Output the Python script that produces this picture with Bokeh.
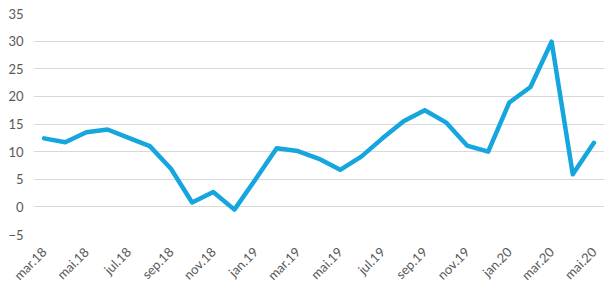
import math
from bokeh.plotting import figure
from bokeh.models import FixedTicker, Range1d, ColumnDataSource
from bokeh.embed import file_html
from bokeh.resources import INLINE

months = ["mar.18", "apr.18", "mai.18", "jun.18", "jul.18", "aug.18", "sep.18", "okt.18", "nov.18",
          "des.18", "jan.19", "feb.19", "mar.19", "apr.19", "mai.19", "jun.19", "jul.19", "aug.19",
          "sep.19", "okt.19", "nov.19", "des.19", "jan.20", "feb.20", "mar.20", "apr.20", "mai.20"]
values = [12.4, 11.7, 13.5, 14.0, 12.5, 11.0, 6.9, 0.8, 2.7, -0.5, 5.0, 10.6, 10.1, 8.7, 6.7,
          9.1, 12.4, 15.5, 17.5, 15.3, 11.1, 10.0, 18.9, 21.7, 29.9, 5.9, 11.6]
y_ticks = [-5, 0, 5, 10, 15, 20, 25, 30, 35]

x = list(range(len(months)))
src = ColumnDataSource(data=dict(x=x, y=values))

p = figure(width=615, height=291, output_backend="svg", toolbar_location=None,
           x_range=Range1d(-0.5, len(months) - 0.5), y_range=Range1d(-5, 35),
           min_border_left=33, min_border_right=11, min_border_top=13, min_border_bottom=57)
p.outline_line_color = None
p.background_fill_color = "white"
p.border_fill_color = "white"

p.line("x", "y", source=src, line_color="#16A6DE", line_width=4.5, line_join="round", line_cap="round")

p.xgrid.grid_line_color = None
p.ygrid.grid_line_color = "#D9D9D9"
p.ygrid.grid_line_width = 1

p.yaxis.ticker = FixedTicker(ticks=y_ticks)
p.xaxis.ticker = FixedTicker(ticks=x[::2])
p.xaxis.major_label_overrides = {i: months[i] for i in x}
p.xaxis.major_label_orientation = math.pi / 4

for ax in (p.xaxis, p.yaxis):
    ax.axis_line_color = None
    ax.major_tick_line_color = None
    ax.minor_tick_line_color = None
    ax.major_tick_out = 0
    ax.major_tick_in = 0
    ax.major_label_text_font = "Lato"
    ax.major_label_text_color = "#595959"
    ax.major_label_text_font_size = "13px"

p.yaxis.major_label_standoff = 10
p.xaxis.major_label_standoff = 15

open("out.html", "w").write(file_html(p, INLINE))
